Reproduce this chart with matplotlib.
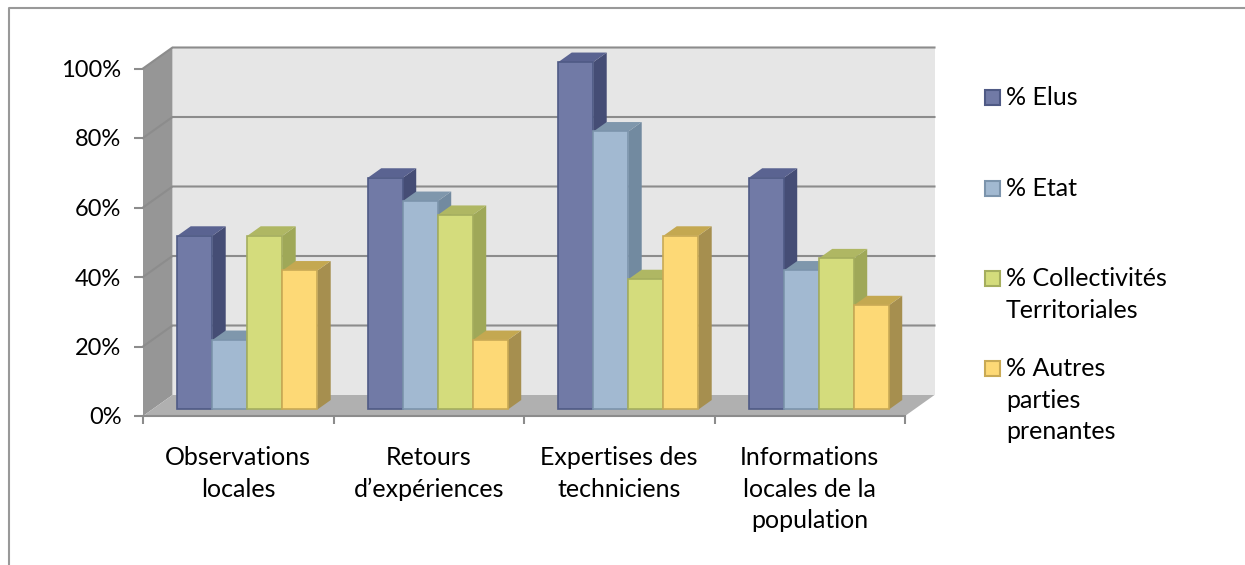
import matplotlib
matplotlib.use("Agg")
import matplotlib.pyplot as plt
from matplotlib.patches import Polygon, Rectangle
from matplotlib.lines import Line2D

categories = ["Observations\nlocales", "Retours\nd’expériences",
              "Expertises des\ntechniciens", "Informations\nlocales de la\npopulation"]
series_names = ["% Elus", "% Etat", "% Collectivités\nTerritoriales", "% Autres\nparties\nprenantes"]
elus = [50, 66.7, 100, 66.7]
etat = [20, 60, 80, 40]
collectivites = [50, 56, 37.5, 43.5]
autres = [40, 20, 50, 30]
series = [elus, etat, collectivites, autres]
y_ticks = [0, 20, 40, 60, 80, 100]
y_labels = ["0%", "20%", "40%", "60%", "80%", "100%"]

front = ["#717AA6", "#A2B9D1", "#D4DC7C", "#FDD976"]
edge = ["#4F5A85", "#7C94AC", "#A5AE5E", "#C9AA55"]
side = ["#454D75", "#728AA0", "#9FA858", "#A68F4F"]
top = ["#5A6391", "#7F97AC", "#AFB763", "#C4A851"]

W, H = 1245, 565
FONT = "Lato"
FS = 18
LS = 1.46
GRID = "#8C8C8C"

fig = plt.figure(figsize=(W / 100, H / 100), dpi=100, facecolor="white")
L, R, T, B = 143, 905, 68.5, 416
ax = fig.add_axes([L / W, 1 - B / H, (R - L) / W, (B - T) / H])
ax.set_xlim(0, len(categories))
ax.set_ylim(0, 100)
ax.patch.set_visible(False)

ux = (R - L) / len(categories)   # px per category
uy = (B - T) / 100               # px per percent
DX, DY = 29.5 / ux, 21 / uy      # full depth of the 3D box, in data units
n = len(categories)


def poly(pts, fc, ec="none", lw=0, z=1):
    ax.add_patch(Polygon(pts, closed=True, facecolor=fc, edgecolor=ec, linewidth=lw,
                         clip_on=False, zorder=z, joinstyle="miter"))


# walls and floor
poly([(DX, DY), (n + DX, DY), (n + DX, 100 + DY), (DX, 100 + DY)], "#E6E6E6")
poly([(0, 0), (DX, DY), (DX, 100 + DY), (0, 100)], "#969696")
poly([(0, 0), (n, 0), (n + DX, DY), (DX, DY)], "#B0B0B0")

for v in y_ticks[1:]:
    ax.plot([0, DX, n + DX], [v, v + DY, v + DY], color=GRID, lw=1.5, clip_on=False, zorder=2,
            solid_joinstyle="miter")

# bars
bar_w = 35 / ux
start = 25.3 / ux
d0, d1 = 0.31, 0.76
for g in range(n):
    for s, vals in enumerate(series):
        v = vals[g]
        x0 = g + start + s * bar_w + d0 * DX
        x1 = x0 + bar_w
        y0 = d0 * DY
        y1 = y0 + v
        ddx, ddy = (d1 - d0) * DX, (d1 - d0) * DY
        z = 3 + g + s * 0.1
        poly([(x1, y0), (x1 + ddx, y0 + ddy), (x1 + ddx, y1 + ddy), (x1, y1)], side[s], z=z)
        poly([(x0, y1), (x1, y1), (x1 + ddx, y1 + ddy), (x0 + ddx, y1 + ddy)], top[s], z=z)
        poly([(x0, y0), (x1, y0), (x1, y1), (x0, y1)], front[s], ec=edge[s], lw=1.2, z=z + 0.01)

# axes
for name in ["left", "right", "top"]:
    ax.spines[name].set_visible(False)
ax.spines["bottom"].set_color(GRID)
ax.spines["bottom"].set_linewidth(1.5)
ax.spines["bottom"].set_zorder(20)
ax.set_yticks(y_ticks, y_labels, fontsize=17, family=FONT, color="black")
ax.set_xticks(range(n + 1), [""] * (n + 1))
ax.set_xticks([i + 0.5 for i in range(n)], categories, minor=True, fontsize=FS, family=FONT,
              color="black", linespacing=LS, va="top")
ax.tick_params(axis="y", length=6.5, width=1.5, color=GRID, pad=9)
ax.tick_params(axis="x", which="major", length=6, width=1.5, color=GRID)
ax.tick_params(axis="x", which="minor", length=0, pad=21.5)

# legend
tops = [97, 188, 278, 368]
for name, fc, ec, yy in zip(series_names, front, edge, tops):
    fig.add_artist(Rectangle((985 / W, 1 - (yy + 8) / H), 15 / W, 15 / H, transform=fig.transFigure,
                             facecolor=fc, edgecolor=ec, linewidth=1.5))
    fig.text(1006 / W, 1 - (yy - 11) / H, name, fontsize=FS, family=FONT, color="black",
             va="top", ha="left", linespacing=LS)

# outer frame (only left and top are in the picture)
fig.add_artist(Line2D([8.5 / W, 8.5 / W, 1], [0, 1 - 7.5 / H, 1 - 7.5 / H], transform=fig.transFigure,
                      color="#999999", lw=1.5))

fig.savefig("out.png", dpi=100)
